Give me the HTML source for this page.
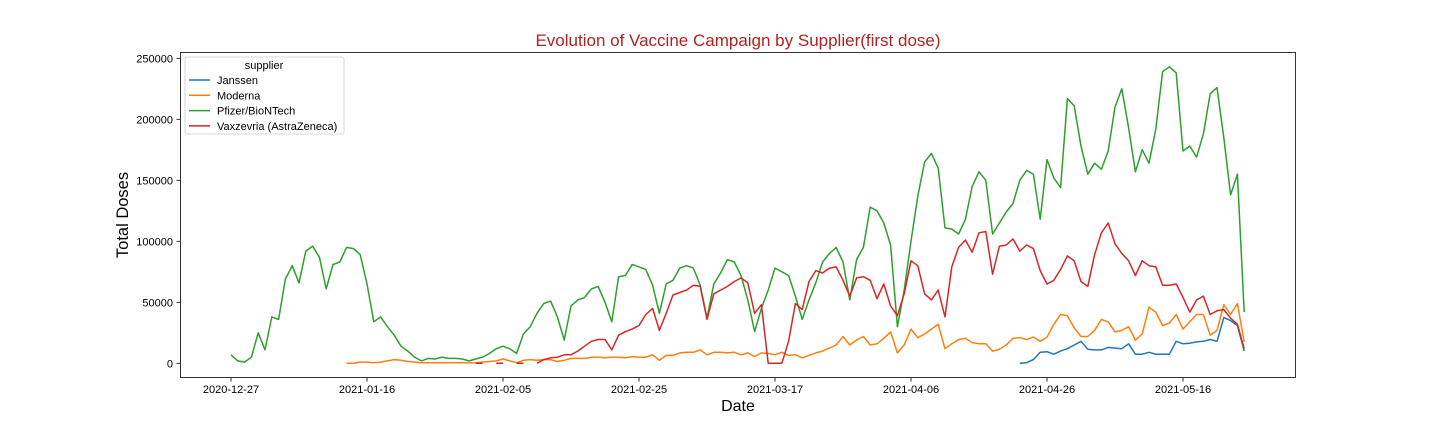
<!DOCTYPE html>
<html><head><meta charset="utf-8"><style>
html,body{margin:0;padding:0;background:#fff;}
svg{display:block;font-family:"Liberation Sans","DejaVu Sans",sans-serif;}
</style></head><body>
<svg id="chart" width="1440" height="432" viewBox="0 0 1440 432" xmlns="http://www.w3.org/2000/svg">
<rect width="1440" height="432" fill="#fff"/>
<text x="738" y="46" text-anchor="middle" font-size="17" fill="#b22222">Evolution of Vaccine Campaign by Supplier(first dose)</text>
<text transform="translate(128,215) rotate(-90)" text-anchor="middle" font-size="16.5" fill="#000">Total Doses</text>
<text x="738" y="411" text-anchor="middle" font-size="16" fill="#000">Date</text>
<g id="axes"></g>
<g id="series"></g>
<rect x="180.5" y="52.5" width="1115" height="325" fill="none" stroke="#000" stroke-width="0.8"/>
<g id="legend">
<rect x="185" y="57" width="159" height="77" rx="2" fill="#fff" fill-opacity="0.8" stroke="#ccc" stroke-width="0.8"/>
<text x="264" y="69" text-anchor="middle" font-size="11" fill="#000">supplier</text>
</g>
</svg>
<script>
const startDate = "2020-12-27";
const unit = 1000;
const tickDates = ["2020-12-27","2021-01-16","2021-02-05","2021-02-25","2021-03-17","2021-04-06","2021-04-26","2021-05-16"];
const yTicks = [0,50000,100000,150000,200000,250000];
const seriesNames = ["Janssen","Moderna","Pfizer/BioNTech","Vaxzevria (AstraZeneca)"];
const seriesColors = ["#1f77b4","#ff7f0e","#2ca02c","#d62728"];
const N = 150;
// values in thousands of doses, indexed by day from startDate; null = no data
const pfizer = [7,2,1,5,25,11,38,36,69,80,66,92,96,87,61,81,83,95,94,89,65,34,38,30,23,14,10,
5,2,4,3.5,5,4,4,3.5,2,3.5,5,8,12,14,12,8,
24,30,41,49,51,38,19,47,52,54,61,63,50,34,71,72,81,79,77,64,41,
65,68,78,80,78,64,37, 65,74,85,83,72,52,26, 45,60,78,75,72,55,36, 52,66,83,90,95,83,52,
85,95,128,125,115,97,30, 60,100,137,165,172,160,111, 110,106,118,145,157,150,106,
115,124,131,150,158,155,118, 167,152,144,217,211,178,155, 164,159,174,210,225,193,157,
175,164,192,239,243,238,174, 178,169,188,221,226,185,138, 155,42];
const moderna = [null,null,null,null,null,null,null,null,null,null,null,null,null,null,null,null,null,
0,0,1,1,0.5,1,2,3,2.5,1.5,1,0.5,0.5,0.5,0.5,0.5,0.5,0.5,0.3,
0.5,1,1.5,2,3.5,2,0.5,2.5,3,2.5,3,3,1.5,2.5,4,4,4,5,5,4.5,5,
5,4.5,5.5,5,5,7,2.5,6.5,6.5,8.5,9,9,11,7,9,9,8.5,9,7,8.5,5.5,8.5,8,7,9,6.5,7,4.5,6.5,8.5,10,12.5,15,22,
15,19,22,15,16,20.5,25.7,8.5,15,28,21,24,28,32,12,16,19.5,20.5,17,16,16,10,11.5,15,20.5,21,19.5,21.5,18,21.5,
32,40,39,29,22,22,27,36,34,25.7,27,30,19,24,46,42,31,33,40,28,34,40,40,23,27,48,40,49,17.5];
const vaxzevria = [null,null,null,null,null,null,null,null,null,null,null,null,null,null,null,null,null,null,null,null,
null,null,null,null,null,null,null,null,null,null,null,null,null,null,null,null,
0,0,null,0,0,null,0,0,null,
0,3,4.5,5,7,7,10,14,18,19.5,19.5,11,23,26,28,31,40,45,27,41,56,58,60,64,63,36,57,60,63,67,70,66,41,48,0,0,0,18,49,44,
67,76,74,78,79,68,55,70,71,68,53,65,47,39,57,84,80,57,52,60,38,79,95,101,91,107,108,73,96,97,102,92,97,94,76,65,68,77,88,
84,67,63,89,107,115,98,90,84,72,84,80,79,64,64,65,54,42,52,55,40,43,44,37,32,12];
const janssen = (function(){const a=[];for(let i=0;i<116;i++)a.push(null);return a;})().concat(
[0,0.5,3,9,9.5,7.5,10,12,15,18,11.5,11,11,13,12.5,12,16,7.5,7.5,9,7.5,7.5,7.5,18,16,16.5,17.5,18,19.5,18,37.5,35,31,10]);
const seriesData = [janssen, moderna, pfizer, vaxzevria];

const X0 = 231, PX_PER_DAY = 6.8, Y0 = 363.3, PX_PER_UNIT = 61/50000;
const t0 = Date.parse(startDate+"T00:00:00Z");
function xDay(d){ return X0 + d*PX_PER_DAY; }
function xDate(s){ return xDay((Date.parse(s+"T00:00:00Z")-t0)/86400000); }
function yVal(v){ return Y0 - v*PX_PER_UNIT; }
const NS = "http://www.w3.org/2000/svg";
function mk(tag, attrs){ const e=document.createElementNS(NS,tag); for(const k in attrs) e.setAttribute(k,attrs[k]); return e; }

const axes = document.getElementById('axes');
tickDates.forEach(function(s){
  const x = xDate(s);
  const t = mk('line',{x1:x,x2:x,y1:378,y2:381.5,stroke:'#000','stroke-width':0.8});
  
  
  axes.appendChild(t);
  const l = mk('text',{x:x,y:393,'text-anchor':'middle','font-size':11,fill:'#000'});
  
  
  l.textContent = s; axes.appendChild(l);
});
yTicks.forEach(function(v){
  const y = yVal(v);
  const t = mk('line',{x1:176.5,x2:180,y1:y,y2:y,stroke:'#000','stroke-width':0.8});
  
  
  axes.appendChild(t);
  const l = mk('text',{x:173,y:y+4,'text-anchor':'end','font-size':11,fill:'#000'});
  
  
  l.textContent = String(v); axes.appendChild(l);
});

const sg = document.getElementById('series');
seriesData.forEach(function(arr, si){
  let d = "", pen = false;
  for (let i=0;i<N;i++){
    const v = arr[i];
    if (v === null || v === undefined){ pen=false; continue; }
    d += (pen?"L":"M") + xDay(i).toFixed(1) + "," + yVal(v*unit).toFixed(1);
    pen = true;
  }
  const p = mk('path',{d:d,fill:'none',stroke:seriesColors[si],'stroke-width':1.5,'stroke-linejoin':'round'});
  
  
  sg.appendChild(p);
});

const lg = document.getElementById('legend');
seriesNames.forEach(function(n, i){
  const y = 80 + i*15.3;
  const ln = mk('line',{x1:189,x2:210,y1:y,y2:y,stroke:seriesColors[i],'stroke-width':1.5});
  
  
  lg.appendChild(ln);
  const t = mk('text',{x:217,y:y+4,'font-size':11,fill:'#000'});
  
  
  t.textContent = n; lg.appendChild(t);
});
</script>
</body></html>
